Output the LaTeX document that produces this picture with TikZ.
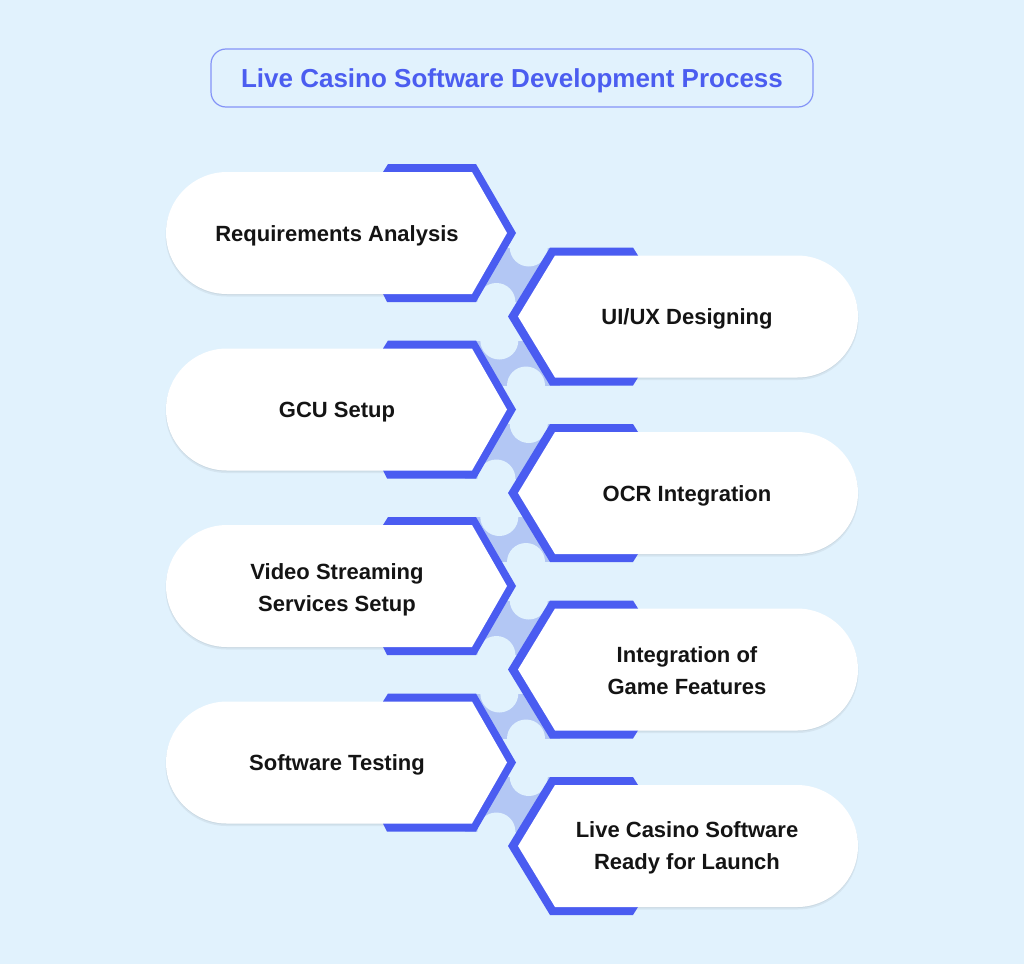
\documentclass[tikz,border=0pt]{standalone}
\usepackage{fontspec}
\setmainfont{Liberation Sans}
\definecolor{bg}{HTML}{E1F2FD}
\definecolor{edge}{HTML}{4A5CF1}
\definecolor{link}{HTML}{B3C7F4}
\definecolor{ink}{HTML}{141414}
\definecolor{titleink}{HTML}{4B5DF0}
\definecolor{titleline}{HTML}{8494F7}
\tikzset{
  leftshape/.style={insert path={(227,#1-61) -- (472,#1-61) -- (507,#1) -- (472,#1+61) -- (227,#1+61)
      arc[start angle=90,end angle=270,radius=61] -- cycle}},
  leftedge/.style={insert path={(388,#1-69) -- (476,#1-69) -- (516,#1) -- (476,#1+69) -- (387,#1+69)
      -- (383,#1+61) -- (383,#1-61) -- cycle}},
  rightshape/.style={insert path={(555,#1-61) -- (797,#1-61) arc[start angle=-90,end angle=90,radius=61]
      -- (555,#1+61) -- (518,#1) -- cycle}},
  rightedge/.style={insert path={(508,#1) -- (550,#1-69) -- (633,#1-69) -- (638,#1-61) -- (638,#1+61)
      -- (633,#1+69) -- (550,#1+69) -- cycle}},
}
\begin{document}
\begin{tikzpicture}[x=1pt,y=-1pt,
  steptext/.style={font=\bfseries\fontsize{22}{32}\selectfont, text=ink, align=center, anchor=base, inner sep=0pt},
  titletext/.style={font=\bfseries\fontsize{26}{30}\selectfont, text=titleink, anchor=base, inner sep=0pt},
  shade1/.style={fill=black, opacity=0.05}]
\useasboundingbox (0,0) rectangle (1024,964);
\fill[bg] (0,0) rectangle (1024,964);

% title
\draw[titleline, line width=1.2pt, fill=bg, rounded corners=15pt] (211,49) rectangle (813,107);
\node[titletext] (title) at (512,87) {Live Casino Software Development Process};

% links between the two columns
\foreach \c in {233,409.5,586,762.5}
  \fill[link] (465,\c+14.5) rectangle (560,\c+69);
\foreach \c in {233,409.5,586}
  \fill[link] (465,\c+107.5) rectangle (560,\c+152.5);
\foreach \c in {233,409.5,586,762.5} {
  \fill[bg] (528.8,\c+14.5) circle (19);
  \fill[bg] (496.4,\c+69) circle (19);
}
\foreach \c in {233,409.5,586} {
  \fill[bg] (499.3,\c+107.5) circle (19);
  \fill[bg] (526,\c+152.5) circle (19);
}

% left column
\foreach \c in {233,409.5,586,762.5} {
  \fill[shade1, shift={(0,1)}, leftshape=\c];
  \fill[shade1, shift={(-0.5,2.5)}, leftshape=\c];
  \fill[edge, leftedge=\c];
  \fill[white, leftshape=\c];
}
% right column
\foreach \d in {316.5,493,669.5,846} {
  \fill[shade1, shift={(0,1)}, rightshape=\d];
  \fill[shade1, shift={(0.5,2.5)}, rightshape=\d];
  \fill[edge, rightedge=\d];
  \fill[white, rightshape=\d];
}

\node[steptext] (req) at (337,241) {Requirements Analysis};
\node[steptext] (gcu) at (337,417.5) {GCU Setup};
\node[steptext] (video) at (337,611) {Video Streaming\\Services Setup};
\node[steptext] (test) at (337,770.5) {Software Testing};
\node[steptext] (uiux) at (687,324.5) {UI/UX Designing};
\node[steptext] (ocr) at (687,501) {OCR Integration};
\node[steptext] (feat) at (687,694) {Integration of\\Game Features};
\node[steptext] (launch) at (687,869) {Live Casino Software\\Ready for Launch};
\end{tikzpicture}
\end{document}
